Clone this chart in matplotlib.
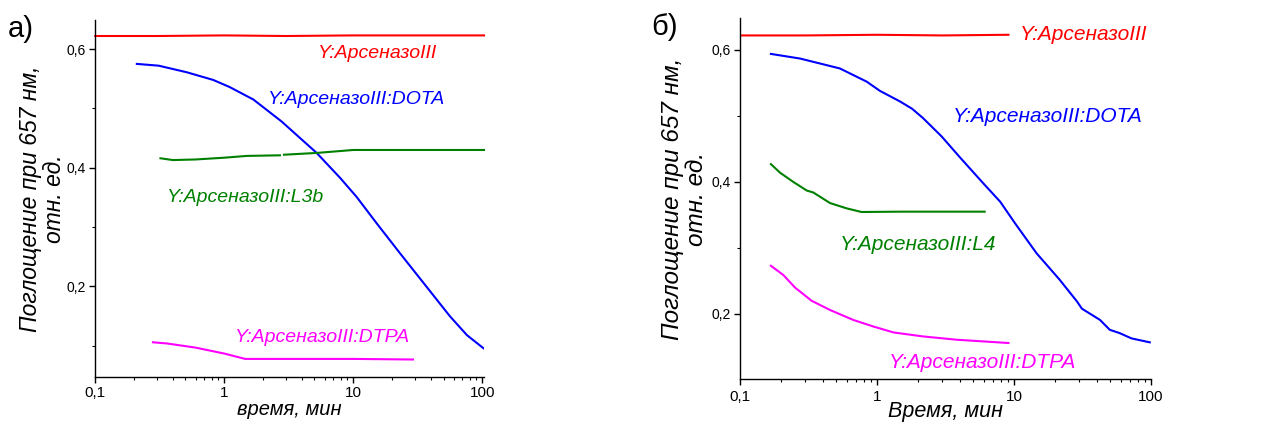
import matplotlib
matplotlib.use("Agg")
import matplotlib.pyplot as plt
from matplotlib.ticker import FixedLocator, FuncFormatter, LogLocator, NullFormatter

plt.rcParams['font.family'] = ['Liberation Sans', 'DejaVu Sans']

# ---------------- Panel a data ----------------
a_red_x = [0.1, 0.3, 1, 3, 10, 30, 103]
a_red_y = [0.622, 0.622, 0.623, 0.622, 0.623, 0.623, 0.623]

a_dota_x = [0.21, 0.31, 0.51, 0.82, 1.1, 1.68, 2.78, 5.2, 7.9, 10.6, 15.1, 23, 35, 56, 76, 102]
a_dota_y = [0.575, 0.572, 0.561, 0.548, 0.536, 0.515, 0.478, 0.425, 0.383, 0.351, 0.307, 0.256, 0.206, 0.150, 0.118, 0.096]

a_l3b_x1 = [0.32, 0.40, 0.6, 1.0, 1.5, 2.7]
a_l3b_y1 = [0.416, 0.413, 0.414, 0.417, 0.420, 0.421]
a_l3b_x2 = [2.9, 5.2, 10, 20, 50, 103]
a_l3b_y2 = [0.422, 0.425, 0.430, 0.430, 0.430, 0.430]

a_dtpa_x = [0.28, 0.36, 0.6, 1.0, 1.45, 3, 10, 29]
a_dtpa_y = [0.106, 0.104, 0.097, 0.087, 0.078, 0.078, 0.078, 0.077]

# ---------------- Panel b data ----------------
b_red_x = [0.1, 0.3, 1, 3, 9.1]
b_red_y = [0.622, 0.622, 0.623, 0.622, 0.623]

b_dota_x = [0.168, 0.274, 0.535, 0.84, 1.05, 1.47, 1.8, 2.16, 2.96, 4.0, 5.96, 7.93, 10.2, 14.6, 21.5, 28.8, 31.3, 42.4, 50, 59, 72, 98]
b_dota_y = [0.594, 0.587, 0.572, 0.552, 0.538, 0.522, 0.511, 0.497, 0.469, 0.438, 0.398, 0.370, 0.337, 0.292, 0.252, 0.219, 0.208, 0.191, 0.176, 0.171, 0.163, 0.157]

b_l4_x = [0.168, 0.196, 0.245, 0.307, 0.343, 0.454, 0.6, 0.77, 1.5, 3, 6.1]
b_l4_y = [0.427, 0.414, 0.400, 0.387, 0.384, 0.368, 0.360, 0.3545, 0.355, 0.355, 0.355]

b_dtpa_x = [0.168, 0.207, 0.252, 0.333, 0.454, 0.67, 0.94, 1.32, 2.16, 3.8, 9.1]
b_dtpa_y = [0.273, 0.259, 0.240, 0.220, 0.206, 0.191, 0.181, 0.172, 0.166, 0.161, 0.156]

x_ticks = [0.1, 1, 10, 100]
x_ticklabels = ["0,1", "1", "10", "100"]
y_major = [0.2, 0.4, 0.6]
y_minor = [0.1, 0.3, 0.5]

ylabel_text = "Поглощение при 657 нм,\nотн. ед."

RED = "#ff0000"
BLUE = "#0000ff"
GREEN = "#008000"
MAG = "#ff00ff"
LW = 1.5

fig = plt.figure(figsize=(12.72, 4.25), dpi=100)

axa = fig.add_axes([0.0749, 0.1136, 0.3056, 0.8394])
axb = fig.add_axes([0.5818, 0.1075, 0.3231, 0.8495])


def style(ax, xlim, ylim, xlabel, ylsize, xlsize, xpad, tpad, ylx):
    ax.set_xscale('log')
    ax.set_xlim(*xlim)
    ax.set_ylim(*ylim)
    for s in ['top', 'right']:
        ax.spines[s].set_visible(False)
    for s in ['left', 'bottom']:
        ax.spines[s].set_linewidth(1.0)
    ax.xaxis.set_major_locator(FixedLocator(x_ticks))
    ax.set_xticklabels(x_ticklabels)
    ax.xaxis.set_minor_locator(LogLocator(base=10, subs=range(2, 10)))
    ax.xaxis.set_minor_formatter(NullFormatter())
    ax.yaxis.set_major_locator(FixedLocator(y_major))
    ax.yaxis.set_minor_locator(FixedLocator(y_minor))
    ax.yaxis.set_major_formatter(FuncFormatter(lambda v, p: f"{v:.1f}".replace('.', ',')))
    ax.tick_params(which='major', direction='out', length=4, width=1, labelsize=11, pad=3)
    ax.tick_params(axis='y', which='major', labelsize=10, pad=2.5)
    ax.tick_params(axis='x', which='major', pad=tpad)
    ax.tick_params(which='minor', direction='out', length=2.5, width=0.8)
    ax.set_xlabel(xlabel, fontsize=xlsize, style='italic', labelpad=xpad)
    ax.set_ylabel(ylabel_text, fontsize=ylsize, style='italic', linespacing=1.05)
    ax.yaxis.set_label_coords(ylx, 0.5)


style(axa, (0.1, 103), (0.048, 0.649), "время, мин", 16.5, 14.5, 0, 3, -0.076)
style(axb, (0.1, 100), (0.101, 0.648), "Время, мин", 17.5, 15.5, -2.5, 4, -0.079)

# Panel a
axa.plot(a_red_x, a_red_y, color=RED, lw=LW, clip_on=False)
axa.plot(a_dota_x, a_dota_y, color=BLUE, lw=LW)
axa.plot(a_l3b_x1, a_l3b_y1, color=GREEN, lw=LW)
axa.plot(a_l3b_x2, a_l3b_y2, color=GREEN, lw=LW, clip_on=False)
axa.plot(a_dtpa_x, a_dtpa_y, color=MAG, lw=LW)

lab_kw = dict(style='italic', ha='left', va='center', fontsize=14)
axa.text(318, 425 - 53, "Y:АрсеназоIII", color=RED, transform=None, **lab_kw)
axa.text(268, 425 - 100, "Y:АрсеназоIII:DOTA", color=BLUE, transform=None, **lab_kw)
axa.text(167, 425 - 197, "Y:АрсеназоIII:L3b", color=GREEN, transform=None, **lab_kw)
axa.text(235, 425 - 338, "Y:АрсеназоIII:DTPA", color=MAG, transform=None, **lab_kw)

# Panel b
axb.plot(b_red_x, b_red_y, color=RED, lw=LW)
axb.plot(b_dota_x, b_dota_y, color=BLUE, lw=LW)
axb.plot(b_l4_x, b_l4_y, color=GREEN, lw=LW)
axb.plot(b_dtpa_x, b_dtpa_y, color=MAG, lw=LW)

lab_kw_b = dict(style='italic', ha='left', va='center', fontsize=15)
axb.text(1020, 425 - 35, "Y:АрсеназоIII", color=RED, transform=None, **lab_kw_b)
axb.text(953, 425 - 116, "Y:АрсеназоIII:DOTA", color=BLUE, transform=None, **lab_kw_b)
axb.text(840, 425 - 244, "Y:АрсеназоIII:L4", color=GREEN, transform=None, **lab_kw_b)
axb.text(889, 425 - 362, "Y:АрсеназоIII:DTPA", color=MAG, transform=None, **lab_kw_b)

fig.text(8 / 1272, 1 - 29 / 425, "а)", fontsize=21, ha='left', va='center')
fig.text(651 / 1272, 1 - 27 / 425, "б)", fontsize=21, ha='left', va='center')

fig.savefig("out.png", dpi=100)
